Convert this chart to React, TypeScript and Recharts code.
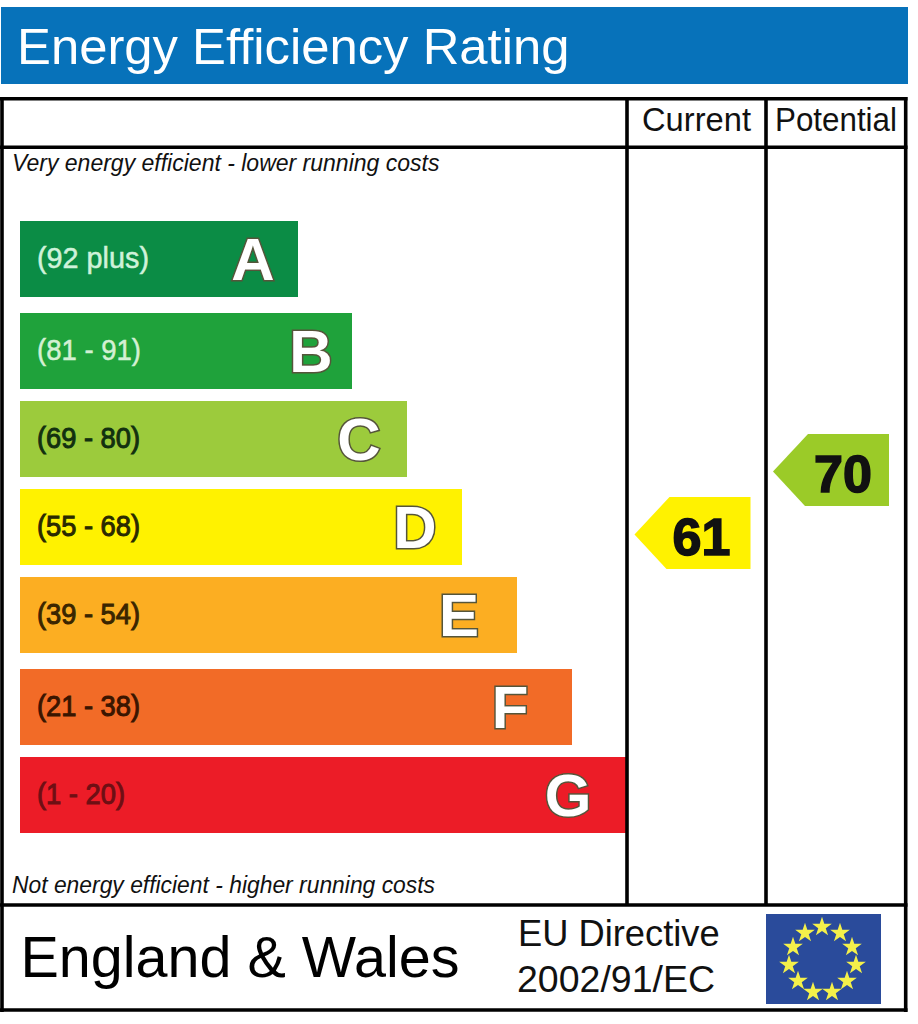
import React from "react";
import { ComposedChart, Bar, Cell, Scatter, XAxis, YAxis, ZAxis, LabelList, ReferenceLine, ReferenceArea, Rectangle } from "recharts";

const WIDTH = 918;
const HEIGHT = 1024;

// Energy bands
const bandLetters = ["A", "B", "C", "D", "E", "F", "G"];
const bandRanges = ["(92 plus)", "(81 - 91)", "(69 - 80)", "(55 - 68)", "(39 - 54)", "(21 - 38)", "(1 - 20)"];
const bandStart = 20;
const bandEnds = [298, 352, 407, 462, 517, 572, 626];
const bandRows = [259, 351, 439, 527, 615, 707, 795];
const letterInsets = [45, 41, 48, 47, 58, 62, 58];
const rangeWidths = [112, 104, 103, 103, 103, 103, 88];

// Ratings
const ratingNames = ["Current", "Potential"];
const ratingValues = [61, 70];
const ratingLanes = [692.5, 831];
const ratingRows = [533, 470];

// EU flag stars
const starLanes = [822, 840, 852, 856, 847, 832, 813, 798, 789, 793, 805];
const starRows = [927, 933, 947, 965, 981, 992, 992, 981, 965, 947, 933];

const bandColors = ["#0B8C45", "#1FA23B", "#9CCB3C", "#FFF200", "#FCAE22", "#F26B27", "#EC1C27"];
const rangeColors = ["#CFF2DA", "#D3F0D3", "#12300F", "#2A2A00", "#3A2500", "#3A1500", "#6E0F14"];
const ratingColors = ["#FFF200", "#9BCB28"];
const FONT = "'Liberation Sans', Arial, sans-serif";
const BAR_THICKNESS = 76;

const bandData = bandLetters.map((letter, i) => ({
  letter,
  range: bandRanges[i],
  y: bandRows[i],
  span: [bandStart, bandEnds[i]],
}));
const ratingData = ratingNames.map((name, i) => ({ name, value: ratingValues[i], x: ratingLanes[i], y: ratingRows[i] }));
const starData = starLanes.map((x, i) => ({ x, y: starRows[i] }));

const BandBar = (props: any) => {
  const { x, y, width, height, fill } = props;
  return <Rectangle x={x} y={y + height / 2 - BAR_THICKNESS / 2} width={width} height={BAR_THICKNESS} fill={fill} />;
};

const RangeLabel = (props: any) => {
  const { x, y, height, index } = props;
  const dark = index > 1;
  return (
    <text x={x + 17} y={y + height / 2 + 9} fontFamily={FONT} fontSize={29} fill={rangeColors[index]}
      stroke={rangeColors[index]} strokeWidth={dark ? 1 : 0.5} textLength={rangeWidths[index]} lengthAdjust="spacingAndGlyphs">
      {bandRanges[index]}
    </text>
  );
};

const LetterLabel = (props: any) => {
  const { x, y, width, height, index } = props;
  return (
    <text x={x + width - letterInsets[index]} y={y + height / 2 + 21} textAnchor="middle" fontFamily={FONT}
      fontWeight={700} fontSize={60} fill="#FFFFFF" stroke="#55553A" strokeWidth={3} paintOrder="stroke">
      {bandLetters[index]}
    </text>
  );
};

const RatingArrow = (props: any) => {
  const { cx, cy, payload, index } = props;
  const tip = cx - 58;
  const right = cx + 58;
  const points = [
    [tip, cy + 1.5],
    [tip + 35, cy - 36],
    [right, cy - 36],
    [right, cy + 36],
    [tip + 32, cy + 36],
  ].map((p) => p.join(",")).join(" ");
  return (
    <g>
      <polygon points={points} fill={ratingColors[index]} />
      <text x={cx + 9 + index * 3} y={cy + 22} textAnchor="middle" fontFamily={FONT} fontWeight={700} fontSize={52}
        fill="#111" stroke="#111" strokeWidth={1.6}>
        {payload.value}
      </text>
    </g>
  );
};

const line = { stroke: "#000", strokeWidth: 3.6 };

export default function App() {
  return (
    <div style={{ position: "absolute", left: 0, top: 0, width: WIDTH, height: HEIGHT, background: "#fff" }}>
      <ComposedChart width={WIDTH} height={HEIGHT} data={bandData} layout="vertical"
        margin={{ top: 0, right: 0, bottom: 0, left: 0 }}>
        <XAxis type="number" dataKey="x" domain={[0, WIDTH]} hide allowDataOverflow />
        <YAxis type="number" dataKey="y" domain={[0, HEIGHT]} hide allowDataOverflow />
        <ZAxis range={[120, 120]} />

        <ReferenceArea x1={1} x2={908} y1={7} y2={84} fill="#0772BA" fillOpacity={1} stroke="none"
          label={{ value: "Energy Efficiency Rating", position: "insideLeft", offset: 16, fill: "#fff", fontSize: 50.8, fontFamily: FONT }} />

        <ReferenceLine segment={[{ x: 0, y: 98.7 }, { x: 907.5, y: 98.7 }]} {...line} />
        <ReferenceLine segment={[{ x: 0, y: 147.3 }, { x: 907.5, y: 147.3 }]} {...line} />
        <ReferenceLine segment={[{ x: 0, y: 905 }, { x: 907.5, y: 905 }]} {...line} />
        <ReferenceLine segment={[{ x: 0, y: 1010 }, { x: 907.5, y: 1010 }]} {...line} />
        <ReferenceLine segment={[{ x: 2, y: 97 }, { x: 2, y: 1012 }]} {...line} />
        <ReferenceLine segment={[{ x: 905.7, y: 97 }, { x: 905.7, y: 1012 }]} {...line} />
        <ReferenceLine segment={[{ x: 627, y: 97 }, { x: 627, y: 905 }]} {...line} />
        <ReferenceLine segment={[{ x: 766, y: 97 }, { x: 766, y: 905 }]} {...line} />

        <Bar dataKey="span" shape={BandBar} isAnimationActive={false}>
          {bandData.map((d, i) => (
            <Cell key={d.letter} fill={bandColors[i]} />
          ))}
          <LabelList dataKey="range" content={RangeLabel} />
          <LabelList dataKey="letter" content={LetterLabel} />
        </Bar>

        <Scatter data={ratingData} shape={RatingArrow} isAnimationActive={false} />

        <ReferenceArea x1={766} x2={881} y1={914} y2={1004} fill="#2A4B9B" fillOpacity={1} stroke="none" />
        <Scatter data={starData} shape="star" fill="#F4F04A" isAnimationActive={false} />

        <text x={642} y={131} fontFamily={FONT} fontSize={33} fill="#111" textLength={109} lengthAdjust="spacingAndGlyphs">Current</text>
        <text x={775} y={131} fontFamily={FONT} fontSize={33} fill="#111" textLength={122} lengthAdjust="spacingAndGlyphs">Potential</text>
        <text x={12} y={171} fontFamily={FONT} fontStyle="italic" fontSize={23} fill="#111">Very energy efficient - lower running costs</text>
        <text x={12} y={893} fontFamily={FONT} fontStyle="italic" fontSize={23} fill="#111" textLength={423} lengthAdjust="spacingAndGlyphs">Not energy efficient - higher running costs</text>
        <text x={20.5} y={977} fontFamily={FONT} fontSize={57.5} fill="#000">England &amp; Wales</text>
        <text x={518} y={946} fontFamily={FONT} fontSize={36.3} fill="#111">EU Directive</text>
        <text x={517} y={992} fontFamily={FONT} fontSize={36} fill="#111" textLength={198} lengthAdjust="spacingAndGlyphs">2002/91/EC</text>
      </ComposedChart>
    </div>
  );
}
